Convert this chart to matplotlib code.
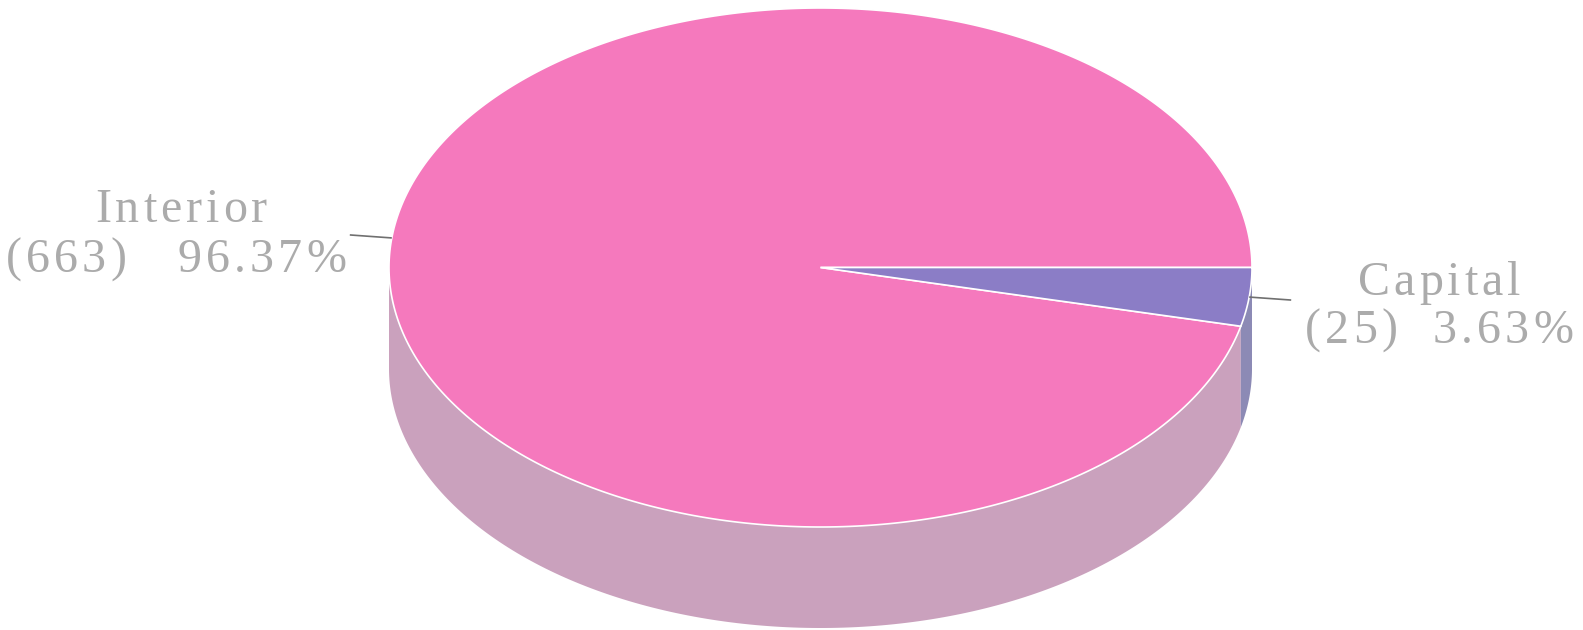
import numpy as np
import matplotlib
matplotlib.use("Agg")
import matplotlib.pyplot as plt
from matplotlib.patches import Polygon

# ---- data ----
labels = ["Interior", "Capital"]
counts = [663, 25]
top_colors = ["#f579bd", "#8b7dc6"]
side_colors = ["#caa1bd", "#8c8ab5"]

W, H = 1583, 630
DPI = 100
fig = plt.figure(figsize=(W / DPI, H / DPI), dpi=DPI)
ax = fig.add_axes([0, 0, 1, 1])
ax.set_xlim(0, W)
ax.set_ylim(H, 0)
ax.axis("off")

cx, cy = 820.5, 267.5
a, b = 431.5, 259.5
depth = 101

total = sum(counts)
fracs = [c / total for c in counts]
starts = np.cumsum([0] + fracs[:-1]) * 360.0
ends = np.cumsum(fracs) * 360.0


def ept(theta_deg, dy=0.0):
    t = np.radians(theta_deg)
    return cx + a * np.cos(t), cy - b * np.sin(t) + dy


# sides (front half, screen-lower part: math angles 180..360)
for i in range(len(counts)):
    s, e = starts[i], ends[i]
    lo, hi = max(s, 180.0), min(e, 360.0)
    if hi <= lo:
        continue
    ts = np.linspace(lo, hi, 200)
    top = [ept(t) for t in ts]
    bot = [ept(t, depth) for t in ts[::-1]]
    ax.add_patch(Polygon(top + bot, closed=True, facecolor=side_colors[i],
                         edgecolor="none", zorder=1))

# top faces
for i in range(len(counts)):
    ts = np.linspace(starts[i], ends[i], 400)
    pts = [(cx, cy)] + [ept(t) for t in ts]
    ax.add_patch(Polygon(pts, closed=True, facecolor=top_colors[i],
                         edgecolor="white", linewidth=1.2, zorder=2))

# ---- labels with letter spacing (Times metrics, em units) ----
adv = {"I": .333, "n": .5, "t": .278, "e": .444, "r": .333, "i": .278, "o": .5,
       "(": .333, ")": .333, " ": .25, ".": .25, "%": .833, "C": .667, "a": .444,
       "p": .5, "l": .278}
for d in "0123456789":
    adv[d] = .5
EM = 48.0
SP = 4.0
FS = EM * 72 / DPI
TCOL = "#ababab"


def spaced(xc, yb, s):
    widths = [adv.get(c, .5) * EM for c in s]
    total_w = sum(widths) + SP * (len(s) - 1)
    x = xc - total_w / 2
    for c, w in zip(s, widths):
        if c != " ":
            ax.text(x, yb, c, fontsize=FS, family="Liberation Serif",
                    color=TCOL, ha="left", va="baseline", zorder=5)
        x += w + SP


# (line1 centre x, line1 baseline, line2 centre x, line2 baseline, gap)
label_pos = [(181, 222, 176, 272, "   "), (1439, 295, 1439, 343, "  ")]
for i, lab in enumerate(labels):
    x1, y1, x2, y2, gap = label_pos[i]
    spaced(x1, y1, lab)
    spaced(x2, y2, f"({counts[i]}){gap}{fracs[i] * 100:.2f}%")
    mid = (starts[i] + ends[i]) / 2
    px, py = ept(mid)
    sign = 1 if np.cos(np.radians(mid)) > 0 else -1
    ax.plot([px, px + sign * 42], [py, py + 3 * (1 if sign > 0 else -1)],
            color="#707070", lw=1.2, zorder=4, solid_capstyle="butt")

fig.savefig("out.png", dpi=DPI, facecolor="white")
